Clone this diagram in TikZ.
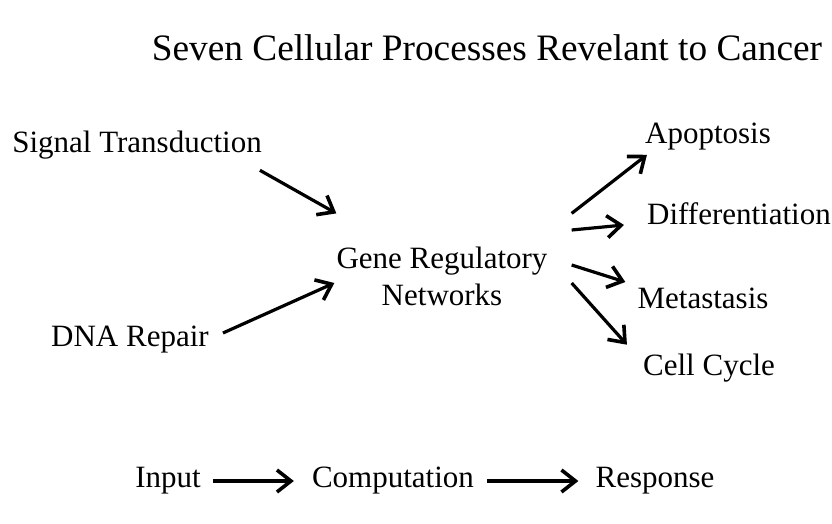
\documentclass[tikz,border=0pt]{standalone}
\usepackage{fontspec}
\setmainfont{Liberation Serif}
\usetikzlibrary{arrows.meta, calc}

\begin{document}
\begin{tikzpicture}[x=1pt, y=-1pt,
	txt/.style={inner sep=0pt, font=\fontsize{31}{37}\selectfont},
	arr/.style={line width=3.2pt, -{Straight Barb[length=14pt,width=22pt,line width=3.6pt]}}]

	\useasboundingbox (0,0) rectangle (832,523);

	\node[inner sep=0pt, font=\fontsize{37.3}{44}\selectfont] (title) at (487,48) {Seven Cellular Processes Revelant to Cancer};

	% inputs
	\node[txt] (signal) at (137,145) {Signal Transduction};
	\node[txt] (dna) at (130,340) {DNA Repair};

	\node[txt, align=center] (gene) at (442,276) {Gene Regulatory\\Networks};

	% responses
	\node[txt] (apop) at (708,137) {Apoptosis};
	\node[txt] (diff) at (739,214) {Differentiation};
	\node[txt] (meta) at (703,298) {Metastasis};
	\node[txt] (cell) at (709,368) {Cell Cycle};

	\draw[arr] ([shift={(-2,11)}]signal.south east) -- ([shift={(0,-33)}]gene.north west);
	\draw[arr] ([shift={(14,-7)}]dna.east) -- ([shift={(-2,7)}]gene.west);

	\draw[arr] ([shift={(24,-33)}]gene.north east) -- ([shift={(2,4)}]apop.south west);
	\draw[arr] ([shift={(24,-46)}]gene.east) -- ([shift={(-23,11)}]diff.west);
	\draw[arr] ([shift={(24,-11)}]gene.east) -- ([shift={(-12,-16)}]meta.west);
	\draw[arr] ([shift={(24,7)}]gene.east) -- ([shift={(-16,-9)}]cell.north west);

	% bottom line
	\node[txt] (input) at (168,481) {Input};
	\node[txt] (comp) at (393,481) {Computation};
	\node[txt] (resp) at (655,481) {Response};

	\draw[arr, shorten <=12pt, shorten >=18pt] (input.east) -- (comp.west);
	\draw[arr, shorten <=13pt, shorten >=17pt] (comp.east) -- (resp.west);
\end{tikzpicture}
\end{document}
